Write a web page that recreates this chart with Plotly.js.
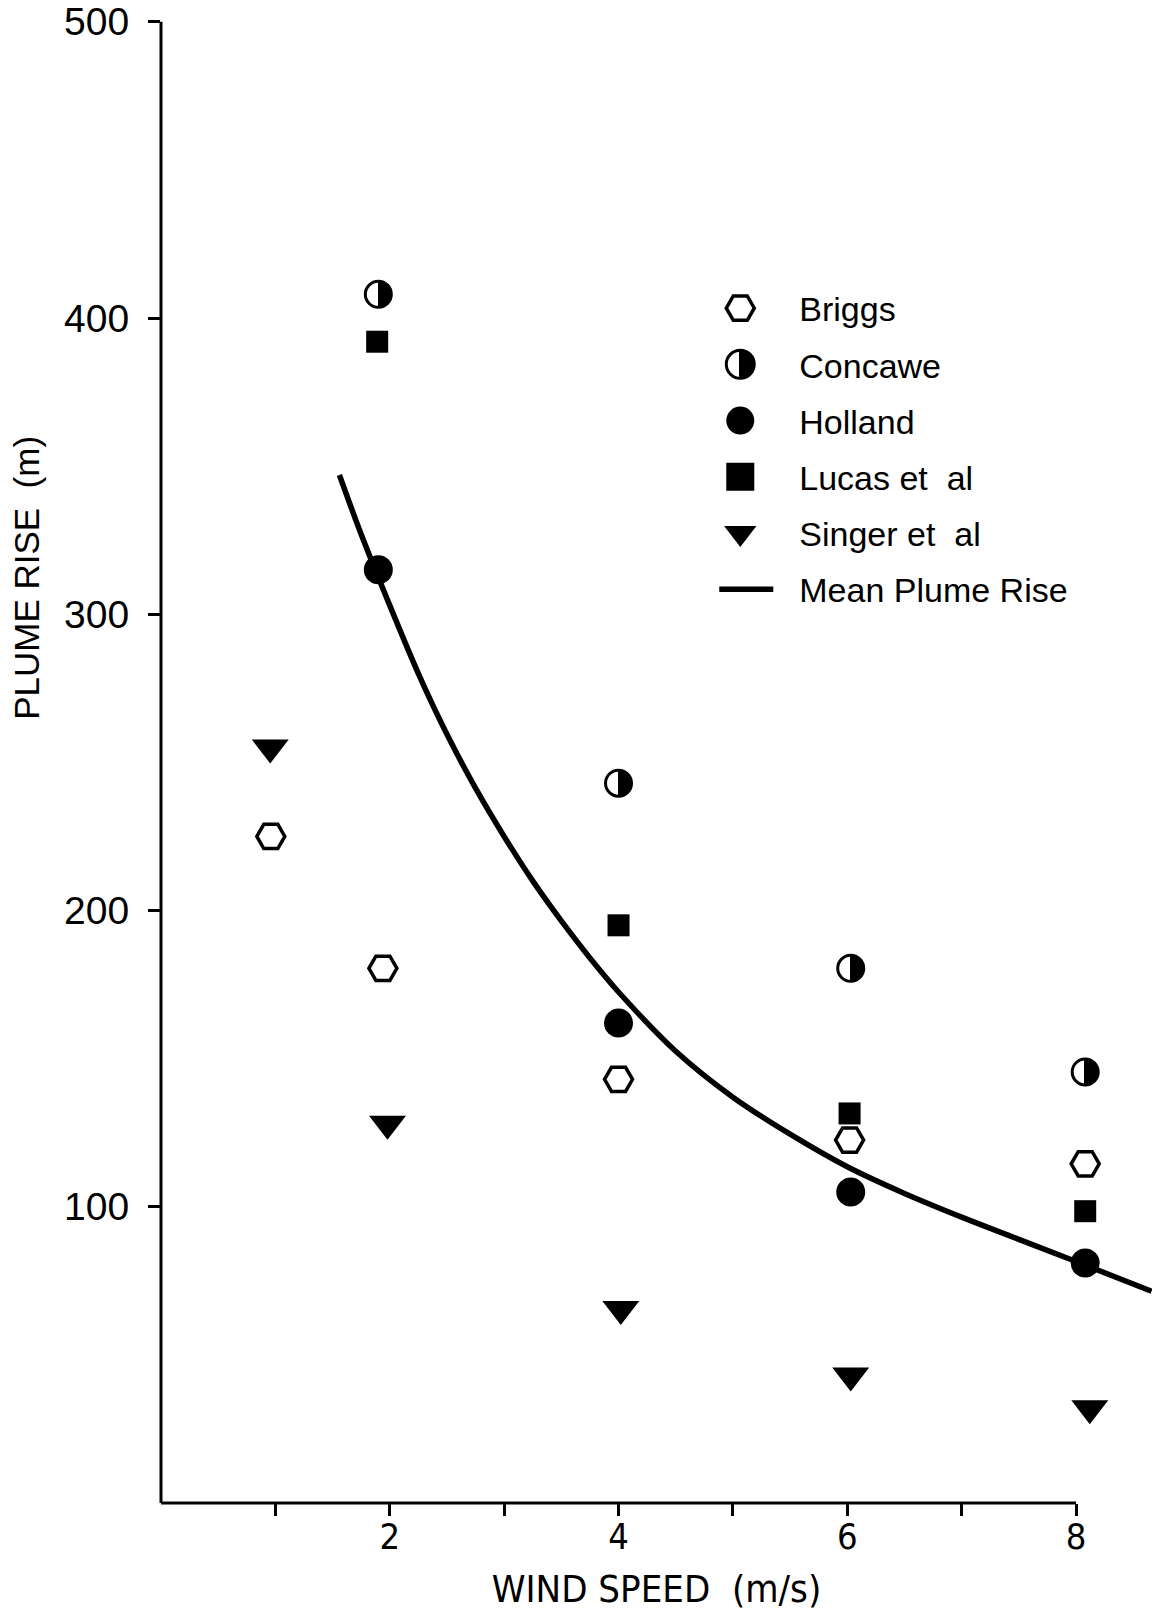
<!DOCTYPE html>
<html>
<head>
<meta charset="utf-8">
<script src="https://cdn.plot.ly/plotly-3.0.1.min.js"></script>
<style>html,body{margin:0;padding:0;background:#fff;}</style>
</head>
<body>
<div id="chart" style="width:1152px;height:1611px;"></div>
<script>
// ---- data ----
const briggsWind = [0.96, 1.94, 4.0, 6.02, 8.08];
const briggsRise = [225, 180.5, 143, 122.5, 114.5];

const concaweWind = [1.90, 4.0, 6.03, 8.08];
const concaweRise = [408, 243, 180.5, 145.5];

const hollandWind = [1.90, 4.0, 6.03, 8.08];
const hollandRise = [315, 162, 105, 81];

const lucasWind = [1.89, 4.0, 6.02, 8.08];
const lucasRise = [392, 195, 131.5, 98.5];

const singerWind = [0.955, 1.98, 4.02, 6.03, 8.12];
const singerRise = [255, 128, 65.5, 43, 32];

const meanWind = [1.56, 1.75, 2.0, 2.25, 2.5, 2.75, 3.0, 3.25, 3.5, 3.75, 4.0, 4.5, 5.0, 5.5, 6.0, 6.5, 7.0, 7.5, 8.0, 8.66];
const meanRise = [347, 327, 303, 280, 259.5, 241.3, 225, 210, 196.5, 184, 172.5, 152.5, 137, 124.5, 113.5, 104.5, 96.5, 89, 81.5, 71.5];

const xTickVals = [1, 2, 3, 4, 5, 6, 7, 8];
const xTickText = ['', '2', '', '4', '', '6', '', '8'];
const yTickVals = [100, 200, 300, 400, 500];
const yTickText = ['100', '200', '300', '400', '500'];
const yInnerTickVals = [100, 200, 300, 400];

const seriesNames = ['Briggs', 'Concawe', 'Holland', 'Lucas et\u00A0\u00A0al', 'Singer et\u00A0\u00A0al', 'Mean Plume Rise'];

// ---- styling ----
const xRange = [0, 8.664];
const yRange = [0, 500.6];
const narrow = '"Liberation Sans Narrow", "DejaVu Sans Condensed", "Arial Narrow", sans-serif';
const regular = '"Liberation Sans", Arial, Helvetica, sans-serif';

const data = [
  {name: seriesNames[5], x: meanWind, y: meanRise, mode: 'lines', type: 'scatter',
   line: {color: '#000', width: 5.5, shape: 'spline', smoothing: 1},
   legendgroup: 'f', legendrank: 6},
  {name: seriesNames[3], x: lucasWind, y: lucasRise, mode: 'markers', type: 'scatter',
   marker: {symbol: 'square', size: 22, color: '#000', line: {width: 0}},
   legendgroup: 'd', legendrank: 4},
  {name: seriesNames[4], x: singerWind, y: singerRise, mode: 'markers', type: 'scatter',
   marker: {symbol: 'triangle-down', size: 32, color: '#000', line: {width: 0}},
   legendgroup: 'e', legendrank: 5},
  {name: seriesNames[2], x: hollandWind, y: hollandRise, mode: 'markers', type: 'scatter',
   marker: {symbol: 'circle', size: 29, color: '#000', line: {width: 0}},
   legendgroup: 'c', legendrank: 3},
  {name: seriesNames[1], x: concaweWind, y: concaweRise, mode: 'markers', type: 'scatter',
   marker: {symbol: 'circle', size: 26, color: '#fff', line: {color: '#000', width: 3},
            gradient: {type: 'horizontal', color: '#000'}},
   legendgroup: 'b', legendrank: 2},
  {name: seriesNames[0], x: briggsWind, y: briggsRise, mode: 'markers', type: 'scatter',
   marker: {symbol: 'hexagon2', size: 28, color: '#fff', line: {color: '#000', width: 3.5}},
   legendgroup: 'a', legendrank: 1}
];

const layout = {
  width: 1152, height: 1611,
  margin: {l: 161, r: 0, t: 20, b: 108},
  paper_bgcolor: '#fff', plot_bgcolor: '#fff',
  font: {family: regular, color: '#000'},
  showlegend: true,
  legend: {
    x: 0.525, y: 0.825, xanchor: 'left', yanchor: 'top',
    bgcolor: 'rgba(0,0,0,0)', borderwidth: 0,
    font: {family: regular, size: 34, color: '#000'},
    traceorder: 'grouped', tracegroupgap: 9, itemwidth: 108
  },
  xaxis: {
    range: xRange, tickmode: 'array', tickvals: xTickVals, ticktext: xTickText,
    ticks: 'outside', ticklen: 12, tickwidth: 3, tickcolor: '#000',
    showline: false, showgrid: false, zeroline: false,
    tickfont: {family: narrow, size: 36, color: '#000'}, ticklabelstandoff: -10,
    title: {text: 'WIND SPEED\u00A0\u00A0(m/s)', font: {family: narrow, size: 38, color: '#000'}, standoff: 22}
  },
  xaxis2: {
    overlaying: 'x', anchor: 'y', side: 'bottom', range: xRange,
    tickmode: 'array', tickvals: xTickVals, ticks: 'inside', ticklen: 11, tickwidth: 3, tickcolor: '#000',
    showticklabels: false, showline: false, showgrid: false, zeroline: false
  },
  yaxis: {
    range: yRange, tickmode: 'array', tickvals: yTickVals, ticktext: yTickText,
    ticks: 'outside', ticklen: 12, tickwidth: 3, tickcolor: '#000',
    showline: false, showgrid: false, zeroline: false,
    tickfont: {family: regular, size: 39, color: '#000'}, ticklabelstandoff: 11
  },
  yaxis2: {
    overlaying: 'y', anchor: 'x', side: 'left', range: yRange,
    tickmode: 'array', tickvals: yInnerTickVals, ticks: 'inside', ticklen: 12, tickwidth: 3, tickcolor: '#000',
    showticklabels: false, showline: false, showgrid: false, zeroline: false
  },
  shapes: [
    {type: 'line', xref: 'paper', yref: 'paper', x0: 0, x1: Math.max(...xTickVals) / xRange[1], y0: 0, y1: 0,
     line: {color: '#000', width: 3}},
    {type: 'line', xref: 'paper', yref: 'paper', x0: 0, x1: 0, y0: 0, y1: Math.max(...yTickVals) / yRange[1],
     line: {color: '#000', width: 3}}
  ],
  annotations: [
    {text: 'PLUME RISE\u00A0\u00A0(m)', textangle: -90, xref: 'paper', yref: 'paper',
     x: -0.136, y: 0.624, xanchor: 'center', yanchor: 'middle', showarrow: false,
     font: {family: regular, size: 35, color: '#000'}}
  ]
};

Plotly.newPlot('chart', data, layout, {staticPlot: true, displayModeBar: false}).then(function (gd) {
  // sharp half-filled circle for Concawe
  gd.querySelectorAll('linearGradient').forEach(function (g) {
    while (g.firstChild) g.removeChild(g.firstChild);
    [['0%', '#000'], ['53%', '#000'], ['53%', '#fff'], ['100%', '#fff']].forEach(function (s) {
      const st = document.createElementNS('http://www.w3.org/2000/svg', 'stop');
      st.setAttribute('offset', s[0]);
      st.setAttribute('stop-color', s[1]);
      g.appendChild(st);
    });
  });
  // enlarge legend symbols to match the figure
  gd.querySelectorAll('.legend .legendpoints path.scatterpts').forEach(function (p) {
    const t = p.getAttribute('transform') || '';
    p.setAttribute('transform', t + ' scale(1.75)');
    p.style.vectorEffect = 'non-scaling-stroke';
  });
  gd.querySelectorAll('.legend .legendlines path').forEach(function (p) {
    p.setAttribute('d', 'M38,0h54');
  });
});
</script>
</body>
</html>
